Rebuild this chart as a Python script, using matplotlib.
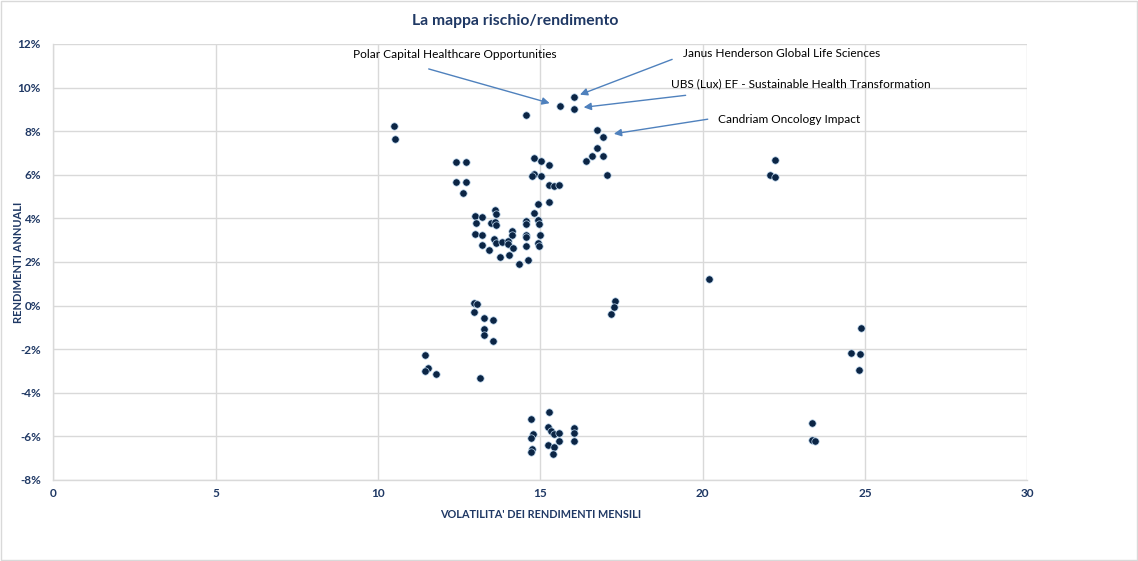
import matplotlib
matplotlib.use('Agg')
import matplotlib.pyplot as plt
from matplotlib.ticker import FuncFormatter

plt.rcParams['font.family'] = ['Lato', 'DejaVu Sans']

# volatilita' (x) e rendimento annuo in % (y)
volatilita = [16.04, 15.61, 16.04, 14.56, 10.48, 10.51, 16.75, 16.93, 16.74, 16.58,
              16.40, 16.93, 17.04, 12.40, 12.72, 12.39, 12.72, 12.62, 14.80, 15.02,
              15.28, 14.80, 14.73, 15.02, 15.27, 15.42, 15.58, 15.27, 14.93, 14.80,
              14.93, 14.96, 14.56, 14.56, 14.98, 14.56, 14.56, 14.92, 14.96, 14.56,
              14.63, 14.33, 13.60, 13.64, 12.98, 13.21, 13.02, 13.48, 13.60, 13.62,
              14.12, 14.14, 12.98, 13.21, 13.58, 13.62, 13.81, 13.99, 14.01, 14.16,
              13.20, 13.43, 13.76, 14.03, 12.97, 13.05, 12.97, 13.27, 13.53, 13.27,
              13.26, 13.55, 11.45, 11.54, 11.44, 11.80, 13.14, 17.31, 17.27, 17.18,
              14.72, 15.27, 14.76, 14.71, 14.75, 14.70, 15.24, 15.33, 15.41, 15.58,
              15.58, 15.24, 15.41, 15.40, 16.04, 16.04, 16.04, 22.22, 22.08, 22.22,
              20.19, 24.87, 24.57, 24.83, 24.81, 23.38, 23.37, 23.45]
rendimento = [9.55, 9.16, 9.00, 8.76, 8.25, 7.66, 8.07, 7.75, 7.22, 6.86,
              6.63, 6.86, 6.00, 6.60, 6.57, 5.68, 5.67, 5.15, 6.76, 6.65,
              6.46, 6.05, 5.96, 5.93, 5.52, 5.47, 5.52, 4.75, 4.65, 4.23,
              3.94, 3.76, 3.87, 3.74, 3.25, 3.25, 3.13, 2.89, 2.72, 2.72,
              2.09, 1.89, 4.39, 4.20, 4.11, 4.06, 3.79, 3.80, 3.85, 3.68,
              3.42, 3.24, 3.28, 3.25, 3.07, 2.89, 2.90, 2.96, 2.83, 2.63,
              2.78, 2.54, 2.24, 2.31, 0.11, 0.07, -0.31, -0.58, -0.67, -1.07,
              -1.33, -1.62, -2.25, -2.86, -2.99, -3.15, -3.32, 0.22, -0.05, -0.39,
              -5.22, -4.88, -5.90, -6.07, -6.56, -6.73, -5.58, -5.75, -5.90, -5.83,
              -6.21, -6.41, -6.49, -6.82, -5.63, -5.86, -6.21, 6.68, 6.00, 5.91,
              1.22, -1.01, -2.17, -2.21, -2.97, -5.40, -6.18, -6.20]

dark = '#1F3864'
grid_c = '#D9D9D9'
arrow_c = '#4F81BD'

fig = plt.figure(figsize=(11.38, 5.61), dpi=100)
ax = fig.add_axes([0.0468, 0.1444, 0.856, 0.7772])

ax.scatter(volatilita, rendimento, s=28, color='#0B2545', edgecolors='#BDD7EE',
           linewidths=0.5, zorder=3)

ax.set_xlim(0, 30)
ax.set_ylim(-8, 12)
ax.set_xticks(range(0, 31, 5))
ax.set_yticks(range(-8, 13, 2))
ax.yaxis.set_major_formatter(FuncFormatter(lambda v, p: '%d%%' % v))
ax.grid(True, color=grid_c, linewidth=1)
ax.set_axisbelow(True)
for s in ['top', 'right']:
    ax.spines[s].set_visible(False)
for s in ['left', 'bottom']:
    ax.spines[s].set_color(grid_c)
    ax.spines[s].set_linewidth(1)
ax.tick_params(length=0, labelsize=8.5, labelcolor=dark)
ax.tick_params(axis='y', pad=9)
ax.tick_params(axis='x', pad=6)
for lab in ax.get_xticklabels() + ax.get_yticklabels():
    lab.set_fontweight('bold')

ax.set_xlabel("VOLATILITA' DEI RENDIMENTI MENSILI", fontsize=7.8, fontweight='bold',
              color=dark, labelpad=7)
ax.set_ylabel('RENDIMENTI ANNUALI', fontsize=8, fontweight='bold', color=dark)
ax.yaxis.set_label_coords(-0.030, 0.5)
fig.text(0.4526, 0.962, 'La mappa rischio/rendimento', ha='center', va='center',
         fontsize=11.3, fontweight='bold', color=dark)

# etichette dei fondi con frecce
labels = [
    ('Polar Capital Healthcare Opportunities', (9.24, 11.50), (11.48, 10.89), (15.37, 9.25)),
    ('Janus Henderson Global Life Sciences', (19.38, 11.57), (19.14, 11.34), (16.14, 9.63)),
    ('UBS (Lux) EF - Sustainable Health Transformation', (19.02, 10.17), (19.56, 9.66), (16.25, 9.08)),
    ('Candriam Oncology Impact', (20.47, 8.55), (20.24, 8.57), (17.18, 7.86)),
]
for txt, tpos, tail, tip in labels:
    ax.text(tpos[0], tpos[1], txt, fontsize=8.6, color='black', ha='left',
            va='center', clip_on=False)
    ax.annotate('', xy=tip, xytext=tail,
                arrowprops=dict(arrowstyle='-|>', color=arrow_c, lw=1,
                                mutation_scale=11))

# cornice esterna
fig.patches.append(plt.Rectangle((0.001, 0.002), 0.998, 0.996, transform=fig.transFigure,
                                 fill=False, edgecolor=grid_c, linewidth=1))

fig.savefig('out.png', dpi=100)
